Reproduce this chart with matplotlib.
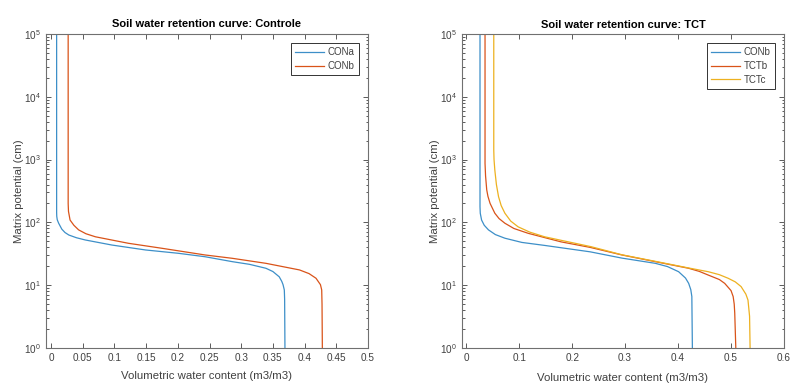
import numpy as np
import matplotlib
matplotlib.use('Agg')
import matplotlib.pyplot as plt
from matplotlib.ticker import LogLocator, NullFormatter

plt.rcParams['font.family'] = ['Liberation Sans', 'DejaVu Sans']
plt.rcParams['mathtext.default'] = 'regular'

# valores (theta em m3/m3, h em cm)
cona_theta = [0.0088, 0.0088, 0.009, 0.0098, 0.012, 0.017, 0.022, 0.028, 0.040, 0.054,
              0.096, 0.149, 0.201, 0.243, 0.286, 0.313, 0.339, 0.350, 0.360, 0.364,
              0.366, 0.368, 0.3685, 0.369]
cona_h = [1e5, 145, 125, 110, 97, 78, 69, 63, 57, 52.5,
          43.6, 36.4, 32.2, 28.4, 23.7, 21.5, 18.6, 16.5, 13.6, 11.5,
          10.2, 8.4, 6, 1]

conb_theta = [0.027, 0.027, 0.0275, 0.030, 0.036, 0.0435, 0.055, 0.070, 0.122, 0.175,
              0.243, 0.286, 0.339, 0.392, 0.407, 0.418, 0.425, 0.427, 0.4275, 0.428]
conb_h = [1e5, 200, 150, 109, 90, 76, 66, 59, 46.5, 38.7,
          30.3, 26.8, 22.3, 17.5, 15.3, 12.9, 10.2, 8.4, 5, 1]

conb2_theta = [0.026, 0.026, 0.0265, 0.029, 0.034, 0.042, 0.055, 0.073, 0.105, 0.148,
               0.234, 0.294, 0.357, 0.380, 0.401, 0.414, 0.420, 0.424, 0.426, 0.427]
conb2_h = [1e5, 178, 140, 109, 90, 76, 64, 56, 48, 43,
           34, 27, 22.3, 19.8, 16.4, 13, 10.7, 8.5, 6.6, 1]

tctb_theta = [0.0355, 0.0355, 0.0365, 0.0387, 0.041, 0.045, 0.054, 0.062, 0.073, 0.090,
              0.117, 0.179, 0.234, 0.294, 0.357, 0.420, 0.440, 0.457, 0.478, 0.488,
              0.500, 0.504, 0.506, 0.507, 0.509]
tctb_h = [1e5, 870, 550, 330, 260, 201, 140, 115, 97, 80,
          67, 49, 40, 30.3, 23.7, 18.6, 16.6, 14.5, 12.3, 10.7,
          8.2, 6.6, 5, 3.6, 1]

tctc_theta = [0.052, 0.052, 0.0525, 0.054, 0.057, 0.061, 0.066, 0.073, 0.084, 0.098,
              0.120, 0.148, 0.236, 0.294, 0.357, 0.420, 0.457, 0.478, 0.4945, 0.508,
              0.519, 0.528, 0.532, 0.535, 0.536]
tctc_h = [1e5, 1420, 1000, 680, 400, 257, 185, 140, 105, 85,
          70, 59, 41, 30.5, 24, 18.8, 16.4, 14.7, 12.9, 11.3,
          9.5, 7.2, 5.8, 3.2, 1]

xt_left = [0, 0.05, 0.1, 0.15, 0.2, 0.25, 0.3, 0.35, 0.4, 0.45, 0.5]
xl_left = ['0', '0.05', '0.1', '0.15', '0.2', '0.25', '0.3', '0.35', '0.4', '0.45', '0.5']
xt_right = [0, 0.1, 0.2, 0.3, 0.4, 0.5, 0.6]
xl_right = ['0', '0.1', '0.2', '0.3', '0.4', '0.5', '0.6']

azul = '#3d8fc8'
laranja = '#d95319'
amarelo = '#edb120'
cinza = '#404040'

fig = plt.figure(figsize=(7.9, 3.85), dpi=100)
ax1 = fig.add_axes([0.0582, 0.0961, 0.4076, 0.8156])
ax2 = fig.add_axes([0.5848, 0.0961, 0.4076, 0.8156])

ax1.plot(cona_theta, cona_h, color=azul, lw=0.9, label='CONa')
ax1.plot(conb_theta, conb_h, color=laranja, lw=0.9, label='CONb')
ax1.set_xlim(-0.008, 0.5)
ax1.set_xticks(xt_left)
ax1.set_xticklabels(xl_left)
ax1.set_title('Soil water retention curve: Controle', fontsize=8, fontweight='bold', pad=5)

ax2.plot(conb2_theta, conb2_h, color=azul, lw=0.9, label='CONb')
ax2.plot(tctb_theta, tctb_h, color=laranja, lw=0.9, label='TCTb')
ax2.plot(tctc_theta, tctc_h, color=amarelo, lw=0.9, label='TCTc')
ax2.set_xlim(-0.008, 0.6)
ax2.set_xticks(xt_right)
ax2.set_xticklabels(xl_right)
ax2.set_title('Soil water retention curve: TCT', fontsize=8, fontweight='bold', pad=4.5)

for ax, lp in [(ax1, 6), (ax2, 7.5)]:
    ax.set_yscale('log')
    ax.set_ylim(1, 1e5)
    ax.yaxis.set_major_locator(LogLocator(base=10, numticks=10))
    ax.yaxis.set_minor_locator(LogLocator(base=10, subs=np.arange(2, 10), numticks=10))
    ax.yaxis.set_minor_formatter(NullFormatter())
    ax.set_xlabel('Volumetric water content (m3/m3)', fontsize=8.2, color=cinza, labelpad=lp)
    ax.set_ylabel('Matrix potential (cm)', fontsize=8.2, color=cinza, labelpad=0)
    ax.tick_params(which='both', direction='in', top=True, right=True,
                   colors=cinza, labelsize=7.2, width=0.6)
    ax.tick_params(which='major', length=3.5)
    ax.tick_params(which='minor', length=1.8)
    for s in ax.spines.values():
        s.set_color('#707070')
        s.set_linewidth(0.8)
    leg = ax.legend(loc='upper right', fontsize=7, fancybox=False, framealpha=1,
                    handlelength=3.0, borderaxespad=0.9, labelspacing=0.4,
                    handletextpad=0.4, borderpad=0.45)
    leg.get_frame().set_edgecolor('#333333')
    leg.get_frame().set_linewidth(0.7)
    for t in leg.get_texts():
        t.set_color(cinza)

fig.savefig('out.png', dpi=100)
